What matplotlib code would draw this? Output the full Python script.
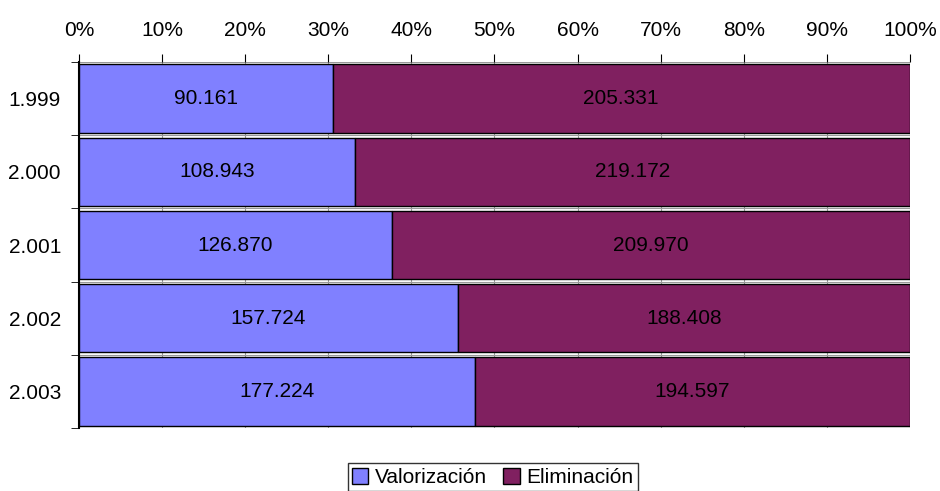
import matplotlib.pyplot as plt
import numpy as np
from matplotlib.ticker import FixedLocator, PercentFormatter

plt.rcParams['font.family'] = ['Liberation Sans', 'DejaVu Sans']

years = ['1.999', '2.000', '2.001', '2.002', '2.003']
valorizacion = [90161, 108943, 126870, 157724, 177224]
eliminacion = [205331, 219172, 209970, 188408, 194597]
val_labels = ['90.161', '108.943', '126.870', '157.724', '177.224']
eli_labels = ['205.331', '219.172', '209.970', '188.408', '194.597']

val = np.array(valorizacion, dtype=float)
eli = np.array(eliminacion, dtype=float)
tot = val + eli
val_pct = val / tot * 100
eli_pct = eli / tot * 100

fig = plt.figure(figsize=(9.4, 4.91), dpi=100)
ax = fig.add_axes([0.084, 0.128, 0.884, 0.746])

y = np.arange(len(years))
b1 = ax.barh(y, val_pct, height=0.93, color='#8080FF', edgecolor='black', linewidth=1, label='Valorización', zorder=3)
b2 = ax.barh(y, eli_pct, left=val_pct, height=0.93, color='#802060', edgecolor='black', linewidth=1, label='Eliminación', zorder=3)

for i in range(len(years)):
    ax.text(val_pct[i] / 2, y[i], val_labels[i], ha='center', va='center', fontsize=15, zorder=4)
    ax.text(val_pct[i] + eli_pct[i] / 2, y[i], eli_labels[i], ha='center', va='center', fontsize=15, zorder=4)

ax.set_xlim(0, 100)
ax.set_ylim(len(years) - 0.5, -0.5)
ax.xaxis.tick_top()
ax.set_xticks(np.arange(0, 101, 10))
ax.xaxis.set_major_formatter(PercentFormatter(decimals=0))
ax.set_yticks(y)
ax.set_yticklabels(years)
ax.yaxis.set_minor_locator(FixedLocator(np.arange(-0.5, len(years), 1)))
ax.tick_params(axis='y', which='major', length=0, pad=13, labelsize=15)
ax.tick_params(axis='y', which='minor', length=6, color='black')
ax.tick_params(axis='x', length=6, color='black', labelsize=15, pad=10)
ax.grid(axis='x', color='#999999', linewidth=0.8, zorder=0)
for y0 in np.arange(-0.5, len(years), 1):
    ax.axhline(y0, color='#999999', linewidth=0.8, zorder=1)

for s in ['right', 'bottom', 'top']:
    ax.spines[s].set_visible(False)
ax.spines['left'].set_linewidth(1.5)

leg = fig.legend(handles=[b1, b2], loc='center', bbox_to_anchor=(0.524, 0.028), ncol=2,
                 frameon=True, fancybox=False, edgecolor='black', fontsize=15,
                 handlelength=0.8, handleheight=0.8, handletextpad=0.3, columnspacing=0.8,
                 borderpad=0.2, borderaxespad=0)
leg.get_frame().set_linewidth(1)

fig.savefig('out.png', dpi=100)
